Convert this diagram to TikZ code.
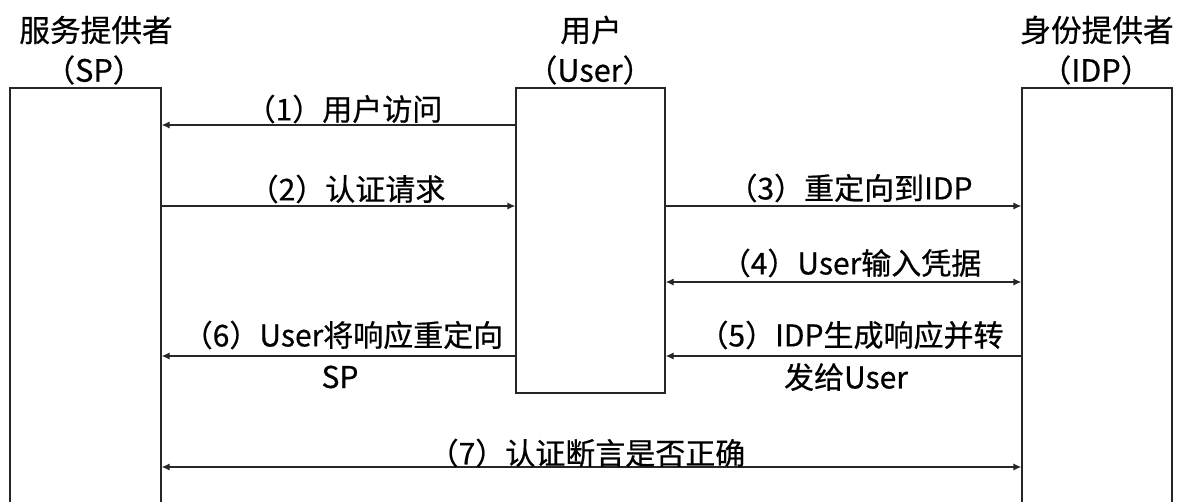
\documentclass[tikz,border=0pt]{standalone}
\usepackage{fontspec}
\setmainfont{Noto Sans CJK SC}[FakeBold=0.6,BoldFont={Noto Sans CJK SC}]
\usetikzlibrary{arrows.meta,fit}
\begin{document}
\begin{tikzpicture}[x=0.75pt,y=-0.75pt,
  box/.style={draw=black!85,line width=1pt,inner sep=0pt,fill=white},
  arr/.style={draw=black!85,line width=1pt,-{Latex[length=6pt,width=5.5pt]}},
  darr/.style={draw=black!85,line width=1pt,{Latex[length=6pt,width=5.5pt]}-{Latex[length=6pt,width=5.5pt]}},
  lbl/.style={font=\fontsize{22.5}{27}\selectfont,inner sep=0pt,text=black},
  ttl/.style={font=\fontsize{23}{28}\selectfont,inner sep=0pt,text=black}]
\clip (0,0) rectangle (1182,501);
\fill[white] (0,0) rectangle (1182,501);
% boxes
\node[box,fit={(10,88) (161,540)}] (sp) {};
\node[box,fit={(516,88) (665,393)}] (user) {};
\node[box,fit={(1022,88) (1172,540)}] (idp) {};
% titles
\node[ttl] (t1) at (96,30) {服务提供者};
\node[ttl] (t1b) at (94,70) {（SP）};
\node[ttl] (t2) at (591,30) {用户};
\node[ttl] (t2b) at (590,70) {（User）};
\node[ttl] (t3) at (1097,30) {身份提供者};
\node[ttl] (t3b) at (1096,70) {（IDP）};
% levels
\coordinate (y1) at (0,125);
\coordinate (y2) at (0,206);
\coordinate (y4) at (0,282);
\coordinate (y5) at (0,356);
\coordinate (y7) at (0,467);
% arrows
\draw[arr] (user.west |- y1) -- (sp.east |- y1);
\draw[arr] (sp.east |- y2) -- (user.west |- y2);
\draw[arr] (user.east |- y2) -- (idp.west |- y2);
\draw[darr] (user.east |- y4) -- (idp.west |- y4);
\draw[arr] (idp.west |- y5) -- (user.east |- y5);
\draw[arr] (user.west |- y5) -- (sp.east |- y5);
\draw[darr] (sp.east |- y7) -- (idp.west |- y7);
% labels
\node[lbl] (l1) at (344,109) {（1）用户访问};
\node[lbl] (l2) at (347,189) {（2）认证请求};
\node[lbl] (l3) at (850,188) {（3）重定向到IDP};
\node[lbl] (l4) at (851,263) {（4）User输入凭据};
\node[lbl] (l5) at (851,335) {（5）IDP生成响应并转};
\node[lbl] (l5b) at (846,377) {发给User};
\node[lbl] (l6) at (343,335) {（6）User将响应重定向};
\node[lbl] (l6b) at (340,377) {SP};
\node[lbl] (l7) at (587,453) {（7）认证断言是否正确};
\end{tikzpicture}
\end{document}
